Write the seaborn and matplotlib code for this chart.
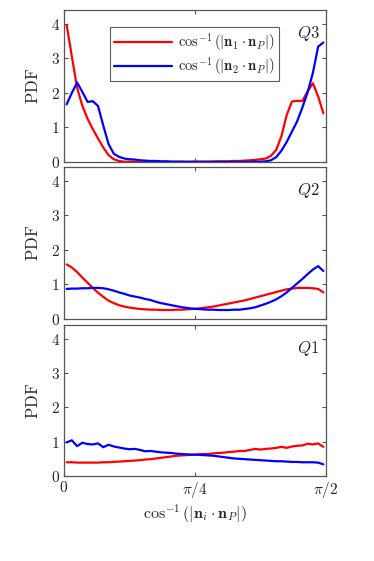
import numpy as np
import pandas as pd
import matplotlib
matplotlib.use("Agg")
import matplotlib.pyplot as plt
import seaborn as sns

sns.set_style("ticks")
plt.rcParams["mathtext.fontset"] = "cm"
plt.rcParams["font.family"] = ["DejaVu Serif", "DejaVu Sans"]

# ---- data (50 bin centres over [0, pi/2]) ----
n_bins = 50
angle = (np.arange(n_bins) + 0.5) / n_bins * (np.pi / 2)

q3_n1 = [3.97, 3.05, 2.15, 1.63, 1.25, 0.95, 0.68, 0.42, 0.20, 0.08,
         0.03, 0.01, 0.01, 0.005, 0.005, 0.005, 0.005, 0.005, 0.005, 0.005,
         0.005, 0.005, 0.005, 0.005, 0.01, 0.01, 0.01, 0.01, 0.015, 0.02,
         0.02, 0.02, 0.03, 0.03, 0.04, 0.05, 0.06, 0.08, 0.10, 0.18,
         0.35, 0.75, 1.36, 1.75, 1.77, 1.77, 2.05, 2.28, 1.90, 1.41]
q3_n2 = [1.67, 2.00, 2.30, 2.03, 1.74, 1.76, 1.62, 1.05, 0.52, 0.24,
         0.15, 0.10, 0.08, 0.07, 0.05, 0.04, 0.03, 0.03, 0.02, 0.02,
         0.01, 0.01, 0.01, 0.005, 0.005, 0.005, 0.005, 0.005, 0.005, 0.005,
         0.005, 0.005, 0.005, 0.005, 0.005, 0.005, 0.01, 0.01, 0.02, 0.05,
         0.14, 0.33, 0.58, 0.88, 1.18, 1.58, 2.02, 2.58, 3.34, 3.46]

q2_n1 = [1.58, 1.49, 1.36, 1.20, 1.05, 0.90, 0.76, 0.64, 0.53, 0.46,
         0.40, 0.36, 0.33, 0.31, 0.29, 0.28, 0.27, 0.27, 0.26, 0.26,
         0.26, 0.27, 0.27, 0.28, 0.29, 0.30, 0.32, 0.34, 0.36, 0.39,
         0.42, 0.45, 0.48, 0.51, 0.54, 0.58, 0.62, 0.66, 0.70, 0.74,
         0.78, 0.82, 0.86, 0.88, 0.90, 0.90, 0.90, 0.89, 0.87, 0.77]
q2_n2 = [0.87, 0.88, 0.88, 0.89, 0.89, 0.90, 0.90, 0.89, 0.86, 0.82,
         0.77, 0.73, 0.68, 0.65, 0.62, 0.58, 0.55, 0.50, 0.46, 0.43,
         0.40, 0.37, 0.34, 0.32, 0.30, 0.29, 0.28, 0.27, 0.27, 0.26,
         0.26, 0.26, 0.27, 0.27, 0.29, 0.31, 0.34, 0.39, 0.44, 0.50,
         0.57, 0.66, 0.77, 0.90, 1.03, 1.16, 1.30, 1.43, 1.53, 1.39]

q1_n1 = [0.40, 0.40, 0.39, 0.39, 0.39, 0.39, 0.39, 0.40, 0.40, 0.41,
         0.42, 0.43, 0.44, 0.45, 0.46, 0.48, 0.49, 0.51, 0.53, 0.55,
         0.57, 0.59, 0.60, 0.61, 0.62, 0.63, 0.64, 0.64, 0.66, 0.67,
         0.68, 0.70, 0.71, 0.73, 0.73, 0.76, 0.79, 0.77, 0.79, 0.80,
         0.82, 0.85, 0.82, 0.86, 0.88, 0.89, 0.94, 0.92, 0.95, 0.85]
q1_n2 = [0.98, 1.04, 0.87, 0.97, 0.93, 0.92, 0.95, 0.84, 0.91, 0.86,
         0.83, 0.80, 0.78, 0.79, 0.76, 0.72, 0.73, 0.71, 0.69, 0.68,
         0.67, 0.65, 0.64, 0.63, 0.62, 0.62, 0.61, 0.60, 0.59, 0.57,
         0.55, 0.53, 0.51, 0.50, 0.49, 0.48, 0.47, 0.46, 0.45, 0.44,
         0.43, 0.43, 0.42, 0.41, 0.41, 0.40, 0.40, 0.40, 0.39, 0.34]

panels = ["Q3", "Q2", "Q1"]
series_labels = [r"$\cos^{-1}(|\mathbf{n}_1 \cdot \mathbf{n}_P|)$",
                 r"$\cos^{-1}(|\mathbf{n}_2 \cdot \mathbf{n}_P|)$"]
panel_data = {"Q3": (q3_n1, q3_n2), "Q2": (q2_n1, q2_n2), "Q1": (q1_n1, q1_n2)}
panel_text = {"Q3": r"$Q3$", "Q2": r"$Q2$", "Q1": r"$Q1$"}

x_ticks = [0, np.pi / 4, np.pi / 2]
x_ticklabels = [r"$0$", r"$\pi/4$", r"$\pi/2$"]
y_ticks = [0, 1, 2, 3, 4]
y_ticklabels = [r"$0$", r"$1$", r"$2$", r"$3$", r"$4$"]
x_label = r"$\cos^{-1}(|\mathbf{n}_i \cdot \mathbf{n}_P|)$"
y_label = r"$\mathrm{PDF}$"

W, H = 374, 561
fig = plt.figure(figsize=(W / 100, H / 100), dpi=100)
left, right = 64, 326
boxes = [(10, 162), (167, 319), (325, 476)]
spine_col = "#555555"
text_col = "#262626"

for k, (name, (top_px, bot_px)) in enumerate(zip(panels, boxes)):
    ax = fig.add_axes([left / W, 1 - bot_px / H, (right - left) / W, (bot_px - top_px) / H])
    a, b = panel_data[name]
    df = pd.DataFrame({
        "angle": np.concatenate([angle, angle]),
        "pdf": np.concatenate([a, b]),
        "series": [series_labels[0]] * n_bins + [series_labels[1]] * n_bins,
    })
    sns.lineplot(data=df, x="angle", y="pdf", hue="series",
                 palette=["#ff0000", "#0000ff"], linewidth=1.6, ax=ax,
                 legend=(k == 0))
    ax.set_xlim(0, np.pi / 2)
    ax.set_ylim(0, 4.4)
    ax.set_yticks(y_ticks, labels=y_ticklabels)
    ax.set_xticks(x_ticks)
    if k == 2:
        ax.set_xticklabels(x_ticklabels)
        ax.set_xlabel(x_label, fontsize=11.5, color=text_col, labelpad=2)
    else:
        ax.set_xticklabels([])
        ax.set_xlabel("")
    ax.set_ylabel(y_label, fontsize=12, color=text_col, labelpad=6)
    ax.tick_params(direction="in", length=3, width=0.8, top=True, right=True,
                   colors=spine_col, labelcolor=text_col, labelsize=11, pad=3)
    for s in ax.spines.values():
        s.set_color(spine_col)
        s.set_linewidth(0.9)
    ax.text(0.975, 0.845, panel_text[name], transform=ax.transAxes,
            ha="right", va="center", fontsize=12, color=text_col)
    if k == 0:
        leg = ax.legend(loc="upper center", bbox_to_anchor=(0.497, 0.89),
                        fontsize=10.5, handlelength=4.0, frameon=True,
                        fancybox=False, edgecolor="#333333", borderpad=0.3,
                        labelspacing=0.15, handletextpad=0.4, borderaxespad=0.0)
        leg.get_frame().set_linewidth(0.8)
        leg.set_title(None)

fig.savefig("out.png", dpi=100)
